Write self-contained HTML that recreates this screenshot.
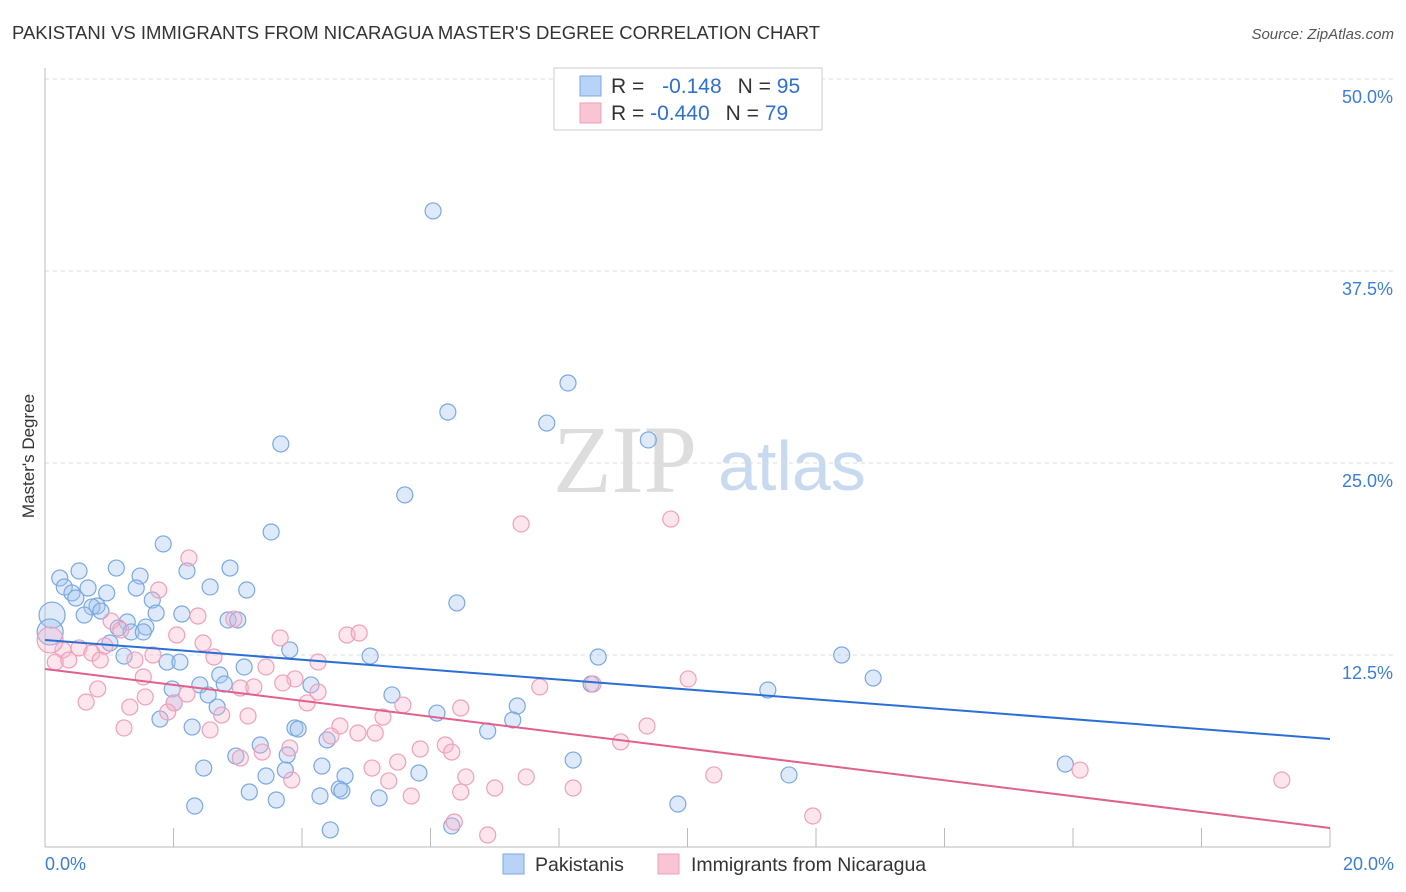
<!DOCTYPE html>
<html><head><meta charset="utf-8"><style>
body{margin:0;background:#fff;font-family:"Liberation Sans",sans-serif}
svg{display:block}
</style></head><body>
<svg id="chart" width="1406" height="892" xmlns="http://www.w3.org/2000/svg">
<text x="12" y="39" font-size="18.5" fill="#333">PAKISTANI VS IMMIGRANTS FROM NICARAGUA MASTER'S DEGREE CORRELATION CHART</text>
<text x="1394" y="39" font-size="15" fill="#555" font-style="italic" text-anchor="end">Source: ZipAtlas.com</text>
<text x="34" y="456" font-size="17" fill="#333" text-anchor="middle" transform="rotate(-90 34 456)">Master's Degree</text>
<g>
<text x="553" y="492" font-size="96" font-family="Liberation Serif,serif" fill="#ddd">ZIP</text>
<text x="718" y="490" font-size="70" fill="#c8daf0">atlas</text>
</g>
<g id="grid"></g>
<g id="axes"></g>
<g id="marks"></g>
<g>
<rect x="554" y="68" width="268" height="62" fill="#fff" stroke="#ccc"/>
<rect x="580" y="76" width="21" height="20" fill="#b8d3f5" stroke="#7aa8e0"/>
<rect x="580" y="103" width="21" height="20" fill="#f9c4d4" stroke="#eea0bb"/>
<text x="611" y="93" font-size="21" fill="#333">R = <tspan fill="#2e6fd0" dx="12">-0.148</tspan><tspan fill="#333" dx="16">N = </tspan><tspan fill="#2e6fd0">95</tspan></text>
<text x="611" y="120" font-size="21" fill="#333">R = <tspan fill="#2e6fd0">-0.440</tspan><tspan fill="#333" dx="16">N = </tspan><tspan fill="#2e6fd0">79</tspan></text>
</g>
<g>
<rect x="503" y="854" width="21" height="20" fill="#b8d3f5" stroke="#7aa8e0"/>
<text x="535" y="871" font-size="19.5" fill="#333">Pakistanis</text>
<rect x="658" y="854" width="21" height="20" fill="#f9c4d4" stroke="#eea0bb"/>
<text x="691" y="871" font-size="19.5" fill="#333">Immigrants from Nicaragua</text>
</g>
</svg>
<script>
const yTicks=[50,37.5,25,12.5];
const xTickLabels=["0.0%","20.0%"];
const blueX=[6.04,8.14,6.27,7.81,9.39,3.67,5.60,3.52,1.84,1.11,0.53,2.88,2.21,1.48,0.23,0.30,0.67,2.57,3.14,0.96,1.42,0.42,0.48,1.67,0.81,0.73,0.87,0.61,1.73,2.13,6.41,1.28,1.57,2.85,3.00,1.14,1.34,1.53,3.81,1.01,1.23,1.90,2.10,5.06,8.61,12.40,3.10,12.89,2.72,1.98,2.41,2.79,4.14,8.50,5.40,2.54,11.25,2.01,2.68,1.79,7.35,6.10,7.28,2.29,3.89,3.94,6.89,4.39,2.97,3.35,3.77,8.22,15.88,2.47,4.31,4.67,3.44,5.82,3.74,11.58,3.18,4.58,4.62,4.28,5.20,3.60,2.33,9.85,4.44,6.33,0.11,0.08];
const blueY=[41.41,30.21,28.32,27.60,26.50,26.24,22.92,20.51,19.73,18.16,17.97,18.16,17.97,17.64,17.51,16.93,16.86,16.93,16.73,16.54,16.86,16.54,16.21,16.08,15.69,15.63,15.36,15.10,15.23,15.17,15.89,14.65,14.32,14.78,14.78,14.26,14.00,14.00,12.83,13.28,12.43,12.04,12.04,12.43,12.37,12.50,11.72,11.00,11.20,10.29,10.55,10.61,10.55,10.61,9.90,9.90,10.22,9.38,9.11,8.33,9.18,8.72,8.27,7.81,7.75,7.68,7.55,6.97,5.92,6.64,5.99,5.66,5.40,5.14,5.27,4.62,4.62,4.82,5.01,4.69,3.58,3.78,3.65,3.32,3.19,3.06,2.67,2.80,1.11,1.37,15.10,14.00];
const pinkX=[7.41,9.74,2.24,1.77,2.38,2.94,4.70,4.89,2.05,3.66,2.46,1.03,0.28,0.53,0.73,0.93,1.18,1.68,1.40,2.63,3.44,4.25,0.16,0.37,0.86,1.53,3.89,3.70,3.04,3.25,4.25,7.70,8.53,10.01,0.82,0.64,1.56,2.21,2.01,1.32,1.91,5.57,4.08,6.47,3.16,2.75,5.26,1.23,2.57,4.59,4.87,5.14,9.37,8.96,4.45,3.81,5.84,6.23,6.33,5.49,3.04,3.38,5.09,6.55,7.49,10.41,16.11,19.25,3.84,5.35,5.70,7.00,8.22,6.47,11.95,6.37,6.89,0.08];
const pinkY=[21.03,21.35,18.82,16.73,15.04,14.84,13.80,13.93,13.80,13.61,13.28,14.71,12.83,12.96,12.63,13.09,14.13,12.50,12.17,12.37,11.72,12.04,12.04,12.17,12.17,11.07,10.94,10.68,10.35,10.42,10.09,10.42,10.61,10.94,10.29,9.44,9.77,9.96,9.38,9.11,8.79,9.24,9.38,9.05,8.53,8.59,8.46,7.75,7.62,7.88,7.42,7.42,7.88,6.84,7.23,6.45,6.38,6.64,6.18,5.53,5.79,6.18,5.14,4.56,4.56,4.69,5.01,4.36,4.36,4.30,3.32,3.84,3.84,3.58,2.02,1.63,0.78,13.48];
const blueTrend=[13.48,7.03];
const pinkTrend=[11.59,1.24];
const NS="http://www.w3.org/2000/svg";
const X=v=>45+v/20*1285, Y=v=>847-v*15.36;
function mk(tag,attrs,parent){const e=document.createElementNS(NS,tag);for(const k in attrs)e.setAttribute(k,attrs[k]);parent.appendChild(e);return e;}
const grid=document.getElementById('grid'),axes=document.getElementById('axes'),marks=document.getElementById('marks');
yTicks.forEach(t=>{
 const l=mk('line',{x1:45,x2:1393,y1:Y(t),y2:Y(t),stroke:'#ddd','stroke-dasharray':'4,4'},grid);
 
 
 const tx=mk('text',{x:1393,y:Y(t)+24,'font-size':18,fill:'#3b7dd8','text-anchor':'end'},grid);tx.textContent=t.toFixed(1)+'%';
 
 
});
const ax=mk('line',{x1:45,x2:1330,y1:847,y2:847,stroke:'#bbb'},axes);


const ay=mk('line',{x1:45,x2:45,y1:68,y2:847,stroke:'#bbb'},axes);


for(let i=1;i<=10;i++){const t=mk('line',{x1:X(i*2),x2:X(i*2),y1:828,y2:847,stroke:'#bbb'},axes);
 
 }
[[0,'start',45],[20,'end',1394]].forEach((d,i)=>{const t=mk('text',{x:d[2],y:870,'font-size':18,fill:'#3b7dd8','text-anchor':d[1]},axes);t.textContent=xTickLabels[i];
 
 });
function pts(xs,ys,fill,stroke,name){xs.forEach((x,i)=>{const big=i>=xs.length-(name==='pakistani-point'?2:1);
 const c=mk('circle',{cx:X(x),cy:Y(ys[i]),r:big?13:8,fill:fill,stroke:stroke,'stroke-width':1.2},marks);
 
 });}
pts(blueX,blueY,'rgba(160,195,238,0.35)','#7aa8e0','pakistani-point');
pts(pinkX,pinkY,'rgba(246,180,202,0.35)','#eea0bb','nicaragua-point');
const bl=mk('line',{x1:X(0),y1:Y(blueTrend[0]),x2:X(20),y2:Y(blueTrend[1]),stroke:'#2b6fd6','stroke-width':2},marks);


const pl=mk('line',{x1:X(0),y1:Y(pinkTrend[0]),x2:X(20),y2:Y(pinkTrend[1]),stroke:'#e0608e','stroke-width':2},marks);


</script>
</body></html>
